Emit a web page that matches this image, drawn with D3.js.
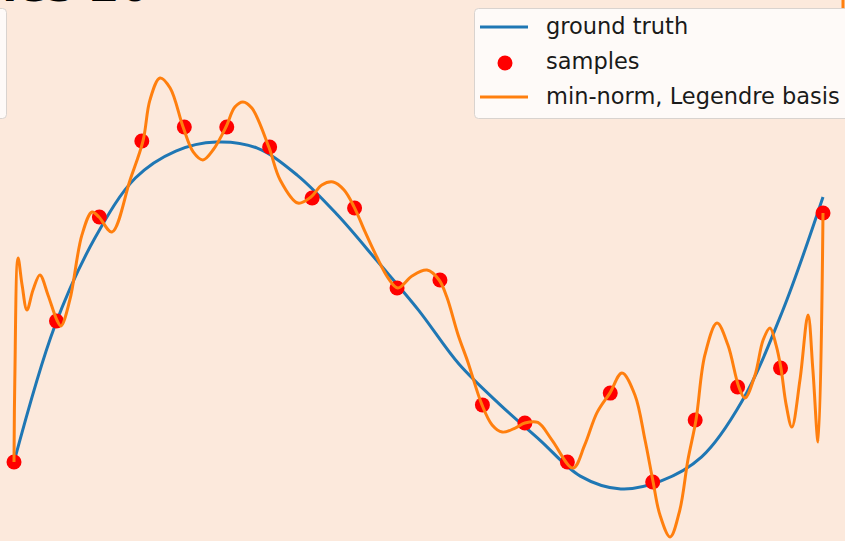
<!DOCTYPE html>
<html>
<head>
<meta charset="utf-8">
<script src="https://cdn.jsdelivr.net/npm/d3@7"></script>
<style>
  html, body { margin: 0; padding: 0; background: #fce9dc; }
  svg { display: block; }
</style>
</head>
<body>
<svg id="chart" width="845" height="541"></svg>
<script>
// ---- data ----
const truthX = [-1, -0.9, -0.8, -0.7, -0.6, -0.5, -0.4, -0.3, -0.2, -0.1, 0, 0.1, 0.2, 0.3, 0.4, 0.5, 0.6, 0.7, 0.8, 0.9, 1];
const truthY = [-0.839, -0.063, 0.448, 0.793, 0.948, 1.000, 0.966, 0.810, 0.580, 0.310, 0.034, -0.276, -0.506, -0.713, -0.920, -0.994, -0.948, -0.810, -0.489, 0.029, 0.684];

const sampleX = [-1, -0.895, -0.789, -0.684, -0.579, -0.474, -0.368, -0.263, -0.158, -0.053, 0.053, 0.158, 0.263, 0.368, 0.474, 0.579, 0.684, 0.789, 0.895, 1];
const sampleY = [-0.839, -0.029, 0.569, 1.006, 1.086, 1.086, 0.971, 0.678, 0.621, 0.161, 0.207, -0.511, -0.615, -0.839, -0.443, -0.954, -0.598, -0.408, -0.299, 0.592];

const fitX = [-1.000, -0.998, -0.990, -0.980, -0.968, -0.953, -0.936, -0.916, -0.894, -0.884, -0.862, -0.832, -0.807, -0.790, -0.758, -0.713, -0.681, -0.664, -0.639, -0.614, -0.582, -0.557, -0.533, -0.508, -0.476, -0.454, -0.434, -0.412, -0.370, -0.342, -0.298, -0.266, -0.239, -0.211, -0.184, -0.159, -0.132, -0.103, -0.075, -0.051, -0.016, 0.021, 0.051, 0.070, 0.098, 0.122, 0.157, 0.182, 0.207, 0.239, 0.263, 0.295, 0.330, 0.382, 0.411, 0.441, 0.473, 0.503, 0.535, 0.560, 0.580, 0.597, 0.622, 0.646, 0.666, 0.686, 0.708, 0.738, 0.765, 0.792, 0.807, 0.832, 0.852, 0.869, 0.884, 0.896, 0.909, 0.923, 0.943, 0.963, 0.975, 0.988, 1.000];
const fitY = [-0.839, -0.368, 0.333, 0.178, 0.034, 0.149, 0.236, 0.121, -0.023, -0.057, 0.092, 0.466, 0.598, 0.569, 0.483, 0.782, 1.006, 1.241, 1.368, 1.310, 1.086, 0.943, 0.897, 0.954, 1.086, 1.201, 1.230, 1.195, 0.971, 0.782, 0.649, 0.684, 0.753, 0.770, 0.724, 0.626, 0.483, 0.339, 0.218, 0.161, 0.230, 0.264, 0.207, 0.109, -0.109, -0.264, -0.511, -0.626, -0.667, -0.644, -0.615, -0.612, -0.713, -0.874, -0.741, -0.557, -0.443, -0.328, -0.454, -0.713, -0.954, -1.144, -1.270, -1.115, -0.828, -0.598, -0.224, -0.040, -0.167, -0.408, -0.471, -0.339, -0.138, -0.069, -0.167, -0.299, -0.511, -0.638, -0.368, 0.006, -0.310, -0.724, 0.592];

const legendLabels = ["ground truth", "samples", "min-norm, Legendre basis"];
const titleText = "samples 20";

// ---- scales ----
const svg = d3.select("#chart");
const x = d3.scaleLinear().domain([-1, 1]).range([14, 823]);
const y = d3.scaleLinear().domain([-1, 1]).range([490, 142]);

const blue = "#1f77b4", orange = "#ff7f0e", red = "#ff0000";

svg.append("rect").attr("width", 845).attr("height", 541).attr("fill", "#fce9dc");

// partially visible title (cut off at top)
svg.append("text")
  .attr("x", 150).attr("y", 1)
  .attr("text-anchor", "end")
  .attr("font-family", "DejaVu Sans")
  .attr("font-weight", "bold")
  .attr("font-size", 44)
  .attr("fill", "#000")
  .text(titleText);

// left neighbour legend box edge
svg.append("rect")
  .attr("x", -300).attr("y", 8.5).attr("width", 306.5).attr("height", 110)
  .attr("rx", 4).attr("fill", "#fefaf8").attr("stroke", "#d9d3cf").attr("stroke-width", 1);

// top-right orange sliver
svg.append("line")
  .attr("x1", 843).attr("x2", 843).attr("y1", 0).attr("y2", 8)
  .attr("stroke", orange).attr("stroke-width", 3);

const line = d3.line().curve(d3.curveCatmullRom.alpha(0.5));

// ground truth
svg.append("path")
  .attr("d", line(truthX.map((d, i) => [x(d), y(truthY[i])])))
  .attr("fill", "none").attr("stroke", blue).attr("stroke-width", 3);

// samples
svg.append("g").selectAll("circle")
  .data(sampleX.map((d, i) => [d, sampleY[i]]))
  .join("circle")
  .attr("cx", d => x(d[0])).attr("cy", d => y(d[1]))
  .attr("r", 7.5).attr("fill", red);

// min-norm fit
svg.append("path")
  .attr("d", line(fitX.map((d, i) => [x(d), y(fitY[i])])))
  .attr("fill", "none").attr("stroke", orange).attr("stroke-width", 3)
  .attr("stroke-linejoin", "round");

// legend
const lg = svg.append("g");
lg.append("rect")
  .attr("x", 474.5).attr("y", 8.5).attr("width", 420).attr("height", 110)
  .attr("rx", 4).attr("fill", "#fefaf8").attr("stroke", "#d9d3cf").attr("stroke-width", 1);
const rowsY = [27, 62, 97];
lg.append("line").attr("x1", 480).attr("x2", 528).attr("y1", rowsY[0]).attr("y2", rowsY[0])
  .attr("stroke", blue).attr("stroke-width", 3);
lg.append("circle").attr("cx", 505).attr("cy", rowsY[1] + 1).attr("r", 7.5).attr("fill", red);
lg.append("line").attr("x1", 480).attr("x2", 528).attr("y1", rowsY[2]).attr("y2", rowsY[2])
  .attr("stroke", orange).attr("stroke-width", 3);
lg.selectAll("text.lbl").data(legendLabels).join("text")
  .attr("class", "lbl")
  .attr("x", 546).attr("y", (d, i) => rowsY[i] + 7)
  .attr("font-family", "DejaVu Sans").attr("font-size", 22.5)
  .attr("fill", "#1a1a1a")
  .text(d => d);
</script>
</body>
</html>
